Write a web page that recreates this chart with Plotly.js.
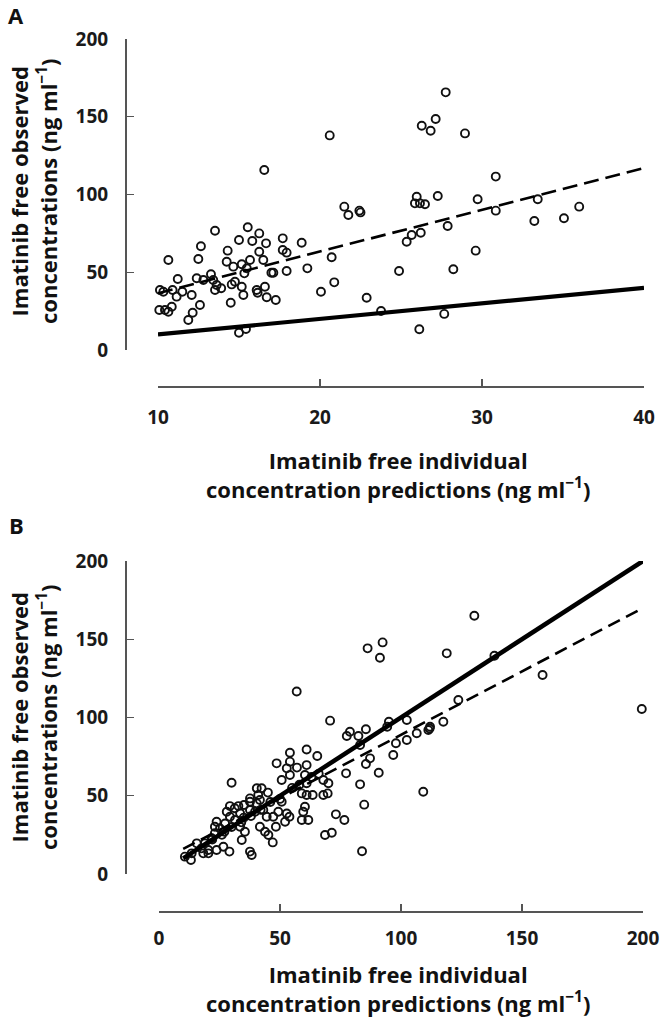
<!DOCTYPE html>
<html>
<head>
<meta charset="utf-8">
<script src="https://cdn.plot.ly/plotly-3.0.1.min.js"></script>
<style>html,body{margin:0;padding:0;background:#fff;}#chart{width:666px;height:1018px;}</style>
</head>
<body>
<div id="chart"></div>
<script>
// Panel A: individual predictions (x) vs observed (y), ng/ml
const predA = [20.6,16.56,27.76,27.14,26.28,26.83,28.95,30.85,21.5,21.75,22.43,22.5,10.64,12.49,12.65,13.52,15.54,16.25,15.0,15.82,16.67,17.7,18.87,14.3,16.25,17.7,17.94,20.72,14.24,14.65,15.17,15.48,15.68,16.5,15.33,17.0,17.12,17.94,19.22,11.22,12.39,12.8,13.27,13.41,13.62,13.52,13.9,14.75,14.55,15.17,15.27,10.12,10.33,10.9,11.5,11.15,12.08,16.09,16.6,16.15,16.71,17.27,10.08,10.43,10.64,10.85,12.59,12.14,11.87,14.49,15.0,15.43,20.06,20.88,22.88,23.77,24.88,25.35,25.97,25.86,26.17,26.48,27.27,29.73,30.85,33.44,33.23,35.06,36.0,25.66,26.22,27.88,28.23,29.61,27.67,26.13];
const obsA  = [138.0,115.8,165.7,148.6,144.2,141.0,139.3,111.5,92.2,86.8,89.6,88.5,57.9,58.5,66.7,76.7,78.9,75.0,70.7,70.1,68.6,71.8,69.0,63.9,63.2,64.3,62.6,59.6,56.8,53.6,55.1,52.5,57.9,57.9,49.3,49.7,49.7,50.8,52.5,45.7,46.1,45.0,48.7,45.0,41.8,38.6,39.7,43.9,42.2,40.7,35.4,38.6,37.5,38.6,37.5,34.3,35.4,38.6,40.7,36.8,33.9,32.2,25.7,25.7,24.6,27.8,28.9,24.0,19.3,30.4,11.1,13.5,37.5,43.5,33.6,25.1,50.8,69.6,98.6,94.3,94.3,93.7,99.0,96.9,89.6,96.9,83.0,84.7,92.2,74.0,75.4,79.7,51.9,63.9,23.2,13.3];
const identityA = [10, 40];
const fitAx = [10, 40];
const fitAy = [36.5, 117];

// Panel B
const predB = [86.2,92.4,91.3,56.9,130.3,118.9,138.6,158.5,123.7,117.5,102.4,199.5,109.2,112,106.5,102.4,111.3,111.8,70.7,78.9,77.6,82.4,85.5,95.0,94.3,97.9,96.8,87.2,85.5,83.1,90.8,77.3,83.1,84.8,83.9,73.1,76.6,68.6,71.4,69.7,67.9,70.0,67.9,65.4,61.0,54.1,54.1,48.6,52.8,54.1,50.7,61.0,60.3,61.0,63.5,61.0,59.0,60.3,59.6,59.0,61.7,52.8,53.9,52.1,50.7,49.3,42.4,41.0,41.7,37.6,40.4,30.0,29.3,32.8,35.1,37.6,39.7,43.1,44.5,47.2,48.3,41.7,43.8,45.2,47.0,37.6,38.3,33.5,35.5,34.2,29.1,23.8,26.6,27.3,29.3,31.4,25.2,23.1,21.8,23.8,23.1,28.0,31.3,33.5,37.6,19.0,20.4,17.6,15.6,13.5,10.7,13.2,18.3,20.4,40.4,22,26,30,34,38,42,46,50,55,58,63,66,45,57,35,27];
const obsB  = [144.2,148.0,138.2,116.6,165.0,141.0,139.5,127.2,111.2,97.3,98.4,105.4,52.6,94.1,89.9,85.6,92.0,93.0,98.0,90.9,88.2,88.2,92.5,97.3,94.1,83.5,76.0,73.9,70.3,82.4,64.7,64.3,57.3,44.3,14.5,38.1,34.5,24.9,26.4,51.5,50.5,58.0,60.1,75.4,79.6,77.5,71.8,70.7,67.5,63.3,60.1,69.6,63.3,58.0,50.5,50.5,51.5,43.0,39.8,34.5,34.5,38.7,36.6,33.4,46.2,39.8,54.8,50.5,47.3,46.2,45.1,58.3,43.4,43.4,44.1,40.9,39.8,40.9,36.6,36.6,30.2,30.2,27.0,24.9,20.2,14.3,12.1,30.2,27.0,21.7,14.3,15.3,17.4,32.3,36.6,34.5,29.1,26.0,22.8,33.4,30.2,39.8,42.0,38.8,48.3,19.6,15.3,16.4,19.6,13.2,11.1,8.9,13.2,13.2,54.8,22,25,30,33,37,41,46,48,55,57,62,64,52,68,36,27];
const identityB = [10, 200];
const fitBx = [10, 200];
const fitBy = [16, 170];

const ticksA_x = [10, 20, 30, 40];
const ticksB_x = [0, 50, 100, 150, 200];
const ticksY = [0, 50, 100, 150, 200];

const yTitle = 'Imatinib free observed<br>concentrations (ng ml<sup>\u22121</sup>)';
const xTitle = 'Imatinib free individual<br>concentration predictions (ng ml<sup>\u22121</sup>)';

const W = 666, H = 1018;
const px = v => v / W;
const py = v => 1 - v / H;

const FONT = 'Open Sans, Lato, sans-serif';
const marker = {symbol: 'circle-open', size: 8, color: '#111', line: {width: 1.9, color: '#111'}};

const traces = [
  {x: predA, y: obsA, xaxis: 'x', yaxis: 'y', mode: 'markers', type: 'scatter', marker: marker, cliponaxis: false, hoverinfo: 'x+y'},
  {x: identityA, y: identityA, xaxis: 'x', yaxis: 'y', mode: 'lines', type: 'scatter', line: {color: '#000', width: 4.2}, cliponaxis: false},
  {x: fitAx, y: fitAy, xaxis: 'x', yaxis: 'y', mode: 'lines', type: 'scatter', line: {color: '#000', width: 2.6, dash: '15px,7px'}, cliponaxis: false},
  {x: predB, y: obsB, xaxis: 'x2', yaxis: 'y2', mode: 'markers', type: 'scatter', marker: marker, cliponaxis: false, hoverinfo: 'x+y'},
  {x: identityB, y: identityB, xaxis: 'x2', yaxis: 'y2', mode: 'lines', type: 'scatter', line: {color: '#000', width: 4.5}, cliponaxis: false},
  {x: fitBx, y: fitBy, xaxis: 'x2', yaxis: 'y2', mode: 'lines', type: 'scatter', line: {color: '#000', width: 2.6, dash: '13px,7px'}, cliponaxis: false}
];

function axisCommon(extra) {
  return Object.assign({
    showgrid: false, zeroline: false, showline: true, linecolor: '#555', linewidth: 1.6,
    ticks: 'inside', ticklen: 7, tickwidth: 1.3, tickcolor: '#555',
    tickfont: {family: FONT, size: 19, color: '#1a1a1a', weight: 700},
    anchor: 'free', fixedrange: true
  }, extra);
}

const layout = {
  width: W, height: H,
  margin: {l: 0, r: 0, t: 0, b: 0},
  paper_bgcolor: '#fff', plot_bgcolor: 'rgba(0,0,0,0)',
  showlegend: false,
  font: {family: FONT},
  xaxis: axisCommon({domain: [px(158), px(644)], range: [10, 40], tickvals: ticksA_x, position: py(386), ticklabelstandoff: 14}),
  yaxis: axisCommon({domain: [py(350), py(39)], range: [0, 200], tickvals: ticksY, position: px(125), ticklabelstandoff: 13}),
  xaxis2: axisCommon({domain: [px(159), px(643)], range: [0, 200], tickvals: ticksB_x, position: py(911), ticklabelstandoff: 10}),
  yaxis2: axisCommon({domain: [py(874), py(561)], range: [0, 200], tickvals: ticksY, position: px(125), ticklabelstandoff: 13}),
  annotations: [
    {text: 'A', xref: 'paper', yref: 'paper', x: px(16), y: py(15), xanchor: 'center', yanchor: 'middle', showarrow: false, font: {family: FONT, size: 22, color: '#111', weight: 700}},
    {text: 'B', xref: 'paper', yref: 'paper', x: px(16), y: py(525), xanchor: 'center', yanchor: 'middle', showarrow: false, font: {family: FONT, size: 22, color: '#111', weight: 700}},
    {text: yTitle, xref: 'paper', yref: 'paper', x: px(33), y: py(192), xanchor: 'center', yanchor: 'middle', textangle: -90, showarrow: false, font: {family: FONT, size: 22, color: '#111', weight: 700}},
    {text: xTitle, xref: 'paper', yref: 'paper', x: px(398), y: py(474), xanchor: 'center', yanchor: 'middle', showarrow: false, font: {family: FONT, size: 22, color: '#111', weight: 700}},
    {text: yTitle, xref: 'paper', yref: 'paper', x: px(33), y: py(718), xanchor: 'center', yanchor: 'middle', textangle: -90, showarrow: false, font: {family: FONT, size: 22, color: '#111', weight: 700}},
    {text: xTitle, xref: 'paper', yref: 'paper', x: px(398), y: py(988), xanchor: 'center', yanchor: 'middle', showarrow: false, font: {family: FONT, size: 22, color: '#111', weight: 700}}
  ]
};

Plotly.newPlot('chart', traces, layout, {displayModeBar: false, staticPlot: true});
</script>
</body>
</html>
